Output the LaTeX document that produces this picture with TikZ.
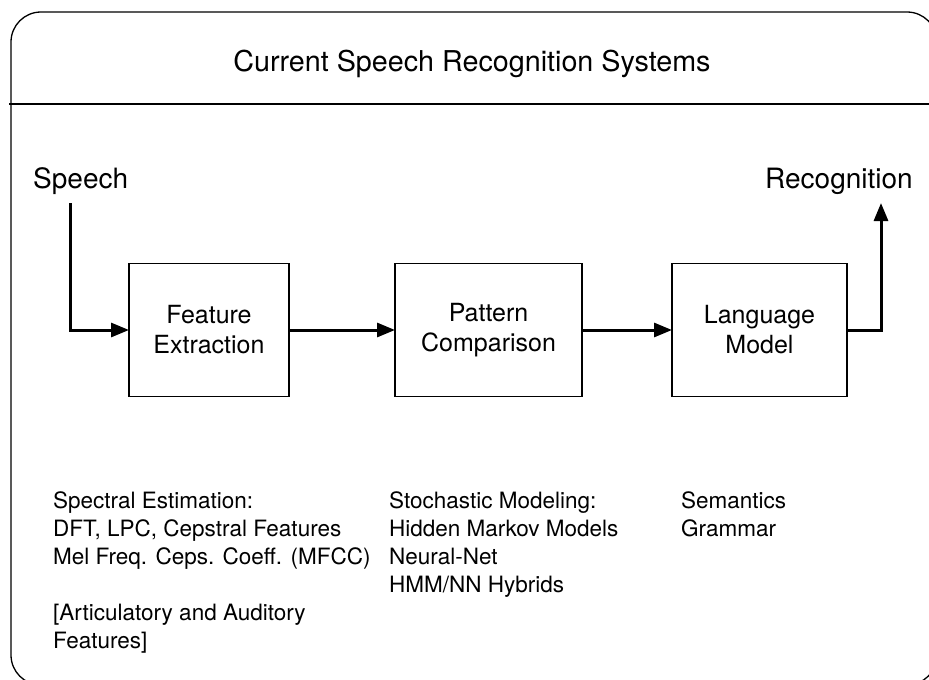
\documentclass[tikz,border=0pt]{standalone}
\usepackage{fontspec}
\setmainfont{TeX Gyre Heros}
\usetikzlibrary{arrows.meta}
\begin{document}
\begin{tikzpicture}[x=1pt,y=-1pt,
  blk/.style={draw, line width=1.2pt, minimum height=133pt, align=center,
    font=\fontsize{25}{30}\selectfont, inner sep=0pt, outer sep=0pt},
  lbl/.style={anchor=base west, inner sep=0pt, font=\fontsize{28}{34}\selectfont},
  note/.style={anchor=base west, inner sep=0pt, align=left,
    font=\fontsize{22.5}{28}\selectfont},
  flow/.style={line width=3pt, -{Triangle[length=18pt,width=14pt]}},
  frame/.style={line width=1.3pt}
  ]
\useasboundingbox (0,0) rectangle (929,680);
\clip (0,0) rectangle (929,680);
\draw[frame, rounded corners=30pt] (11,12) rectangle (937,685);
\draw[frame] (9,104) -- (929,104);

\node[anchor=base, inner sep=0pt, font=\fontsize{28.7}{34}\selectfont] (title) at (472,71) {Current Speech Recognition Systems};

\node[lbl] (speech) at (33,188) {Speech};
\node[lbl] (recog) at (765,188) {Recognition};

\node[blk, minimum width=160pt] (b1) at (209,330) {Feature\\Extraction};
\node[blk, minimum width=187pt] (b2) at (488.5,330) {Pattern\\Comparison};
\node[blk, minimum width=175pt] (b3) at (759.5,330) {Language\\Model};

\coordinate (sin) at (70,203);
\coordinate (rout) at (881,203);
\draw[flow] (sin) |- (b1.west);
\draw[flow] (b1.east) -- (b2.west);
\draw[flow] (b2.east) -- (b3.west);
\draw[flow] (b3.east) -| (rout);

% base anchor of a multi-line node = baseline of its last line
\node[note] (n1) at (53,648) {Spectral Estimation:\\DFT, LPC, Cepstral Features\\Mel Freq. Ceps. Coeff. (MFCC)\\[28pt]{[}Articulatory and Auditory\\Features]};
\node[note] (n2) at (389,592) {Stochastic Modeling:\\Hidden Markov Models\\Neural-Net\\HMM/NN Hybrids};
\node[note] (n3) at (681,536) {Semantics\\Grammar};
\end{tikzpicture}
\end{document}
